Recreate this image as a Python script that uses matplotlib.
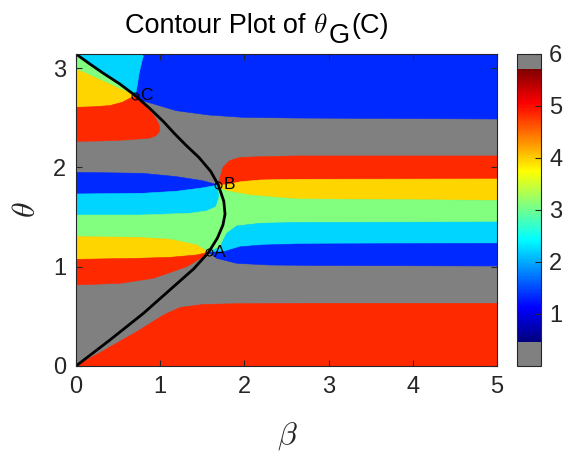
import numpy as np
import matplotlib
matplotlib.use("Agg")
import matplotlib.pyplot as plt
from matplotlib.colors import LinearSegmentedColormap, ListedColormap, Normalize
from matplotlib.cm import ScalarMappable
from matplotlib.transforms import IdentityTransform

plt.rcParams['font.family'] = ['Liberation Sans', 'DejaVu Sans']
plt.rcParams['mathtext.fontset'] = 'cm'

# special points (beta, theta)
pt_names = ['A', 'B', 'C']
pt_beta = [1.575, 1.69, 0.705]
pt_theta = [1.145, 1.823, 2.722]

# black curve
curve_beta = [0, 0.20, 0.40, 0.60, 0.80, 1.00, 1.20, 1.40, 1.575, 1.68, 1.745, 1.77,
              1.755, 1.69, 1.60, 1.46, 1.31, 1.17, 1.04, 0.88, 0.705, 0.52, 0.32, 0.15, 0]
curve_theta = [0, 0.13, 0.26, 0.395, 0.53, 0.68, 0.83, 0.98, 1.145, 1.29, 1.42, 1.53,
               1.66, 1.823, 1.96, 2.10, 2.22, 2.34, 2.46, 2.59, 2.722, 2.84, 2.95, 3.05, np.pi]

# region boundaries (beta, theta)
ul_green_yellow = [(0, 2.99), (0.25, 2.895), (0.50, 2.80), (0.705, 2.722)]
ul_yellow_red = [(0, 2.605), (0.20, 2.61), (0.40, 2.622), (0.55, 2.655), (0.65, 2.70), (0.705, 2.722)]
ul_red_gray = [(0, 2.262), (0.30, 2.266), (0.59, 2.276), (0.88, 2.295), (0.95, 2.32),
               (0.99, 2.36), (0.99, 2.42), (0.95, 2.49), (0.89, 2.56), (0.80, 2.64), (0.705, 2.722)]
top_cyan_blue = [(0.705, 2.722), (0.73, 2.84), (0.75, 2.95), (0.78, 3.06), (0.80, 3.12), (0.78, np.pi)]
top_blue_gray = [(0.705, 2.722), (0.79, 2.672), (1.19, 2.571), (1.58, 2.527), (1.98, 2.504),
                 (2.61, 2.497), (5, 2.487)]

ml_gray_blue = [(0, 1.95), (0.79, 1.94), (1.19, 1.907), (1.50, 1.866), (1.69, 1.823)]
ml_blue_cyan = [(0, 1.732), (0.79, 1.739), (1.19, 1.759), (1.50, 1.793), (1.69, 1.823)]
ml_cyan_green = [(0, 1.52), (0.76, 1.52), (1.354, 1.538), (1.55, 1.561), (1.663, 1.604),
                 (1.70, 1.705), (1.69, 1.823)]

mr_gray_red = [(1.69, 1.823), (1.71, 1.90), (1.75, 2.007), (1.83, 2.07), (1.95, 2.10),
               (2.19, 2.107), (2.61, 2.115), (5, 2.115)]
mr_red_yellow = [(1.69, 1.823), (1.79, 1.825), (1.95, 1.855), (2.19, 1.873), (2.61, 1.88), (5, 1.883)]
mr_yellow_green = [(1.69, 1.823), (1.73, 1.78), (1.87, 1.75), (2.07, 1.72), (2.61, 1.682), (5, 1.668)]

ll_green_yellow = [(0, 1.302), (0.72, 1.296), (1.116, 1.276), (1.433, 1.219), (1.575, 1.145)]
ll_yellow_red = [(0, 1.074), (0.72, 1.084), (1.116, 1.094), (1.433, 1.118), (1.575, 1.145)]
ll_red_gray = [(0, 0.816), (0.523, 0.833), (0.918, 0.883), (1.315, 1.0), (1.512, 1.10), (1.575, 1.145)]

lr_green_cyan = [(1.575, 1.145), (1.71, 1.20), (1.79, 1.336), (1.91, 1.41), (2.19, 1.437),
                 (2.61, 1.445), (5, 1.450)]
lr_cyan_blue = [(1.575, 1.145), (1.75, 1.15), (1.95, 1.20), (2.19, 1.217), (2.61, 1.228), (5, 1.235)]
lr_blue_gray = [(1.575, 1.145), (1.67, 1.085), (1.91, 1.034), (2.30, 1.017), (2.9, 1.012), (5, 1.007)]

bot_gray_red = [(0, 0), (0.325, 0.154), (0.72, 0.345), (1.04, 0.513), (1.235, 0.59), (1.51, 0.62),
                (1.91, 0.627), (2.9, 0.631), (5, 0.631)]

corners = {'tl': (0, np.pi), 'tr': (5, np.pi), 'bl': (0, 0), 'br': (5, 0)}

# matlab style jet
mjet = LinearSegmentedColormap.from_list('mjet', [(0, (0, 0, 0.5)), (0.125, (0, 0, 1)),
                                                  (0.375, (0, 1, 1)), (0.625, (1, 1, 0)),
                                                  (0.875, (1, 0, 0)), (1, (0.5, 0, 0))])
gray = (0.5, 0.5, 0.5)


def rev(b):
    return b[::-1]


# curve part from C up to (0, pi)
curve_pts = list(zip(curve_beta, curve_theta))
iC = int(np.argmin([(b - pt_beta[2]) ** 2 + (t - pt_theta[2]) ** 2 for b, t in curve_pts]))
curve_upper = curve_pts[iC:]

# (level, boundary pieces)
regions = [
    (1, [top_cyan_blue, [corners['tr']], rev(top_blue_gray)]),
    (2, [[corners['tl']], [(0.78, np.pi)], rev(top_cyan_blue), curve_upper]),
    (3, [ul_green_yellow, curve_upper]),
    (4, [ul_green_yellow, rev(ul_yellow_red)]),
    (5, [ul_yellow_red, rev(ul_red_gray)]),
    (1, [ml_gray_blue, rev(ml_blue_cyan)]),
    (2, [ml_blue_cyan, rev(ml_cyan_green)]),
    (5, [mr_gray_red, rev(mr_red_yellow)]),
    (4, [mr_red_yellow, rev(mr_yellow_green)]),
    (3, [ml_cyan_green, mr_yellow_green, rev(lr_green_cyan), rev(ll_green_yellow)]),
    (2, [lr_green_cyan, rev(lr_cyan_blue)]),
    (1, [lr_cyan_blue, rev(lr_blue_gray)]),
    (4, [ll_green_yellow, rev(ll_yellow_red)]),
    (5, [ll_yellow_red, rev(ll_red_gray)]),
    (5, [bot_gray_red, [corners['br']], [corners['bl']]]),
]

fig = plt.figure(figsize=(5.82, 4.57), dpi=100)
ax = fig.add_axes([76 / 582, 91 / 457, 421 / 582, 312 / 457])
ax.set_facecolor(gray)

for lev, parts in regions:
    pts = np.vstack([np.asarray(p, float) for p in parts])
    c = mjet(lev / 6)
    ax.fill(pts[:, 0], pts[:, 1], color=c, lw=0.4, ec=c)

ax.plot(curve_beta, curve_theta, color='k', lw=2)
for name, b, t in zip(pt_names, pt_beta, pt_theta):
    ax.plot(b, t, 'o', ms=5, mfc='none', mec='k', mew=0.8)
    ax.annotate(name, (b, t), xytext=(3.5, 0), textcoords='offset points',
                fontsize=12.5, va='center', ha='left')

ax.set_xlim(0, 5)
ax.set_ylim(0, np.pi)
ax.set_xticks([0, 1, 2, 3, 4, 5])
ax.set_yticks([0, 1, 2, 3])
edge = (0.15, 0.15, 0.15)
ax.tick_params(direction='in', top=True, right=True, labelsize=17, colors=edge,
               length=4, width=0.8, pad=7)
for s in ax.spines.values():
    s.set_color(edge)
    s.set_linewidth(0.8)

fig.text(287 / 582, 1 - 436 / 457, r'$\beta$', fontsize=23, ha='center', va='center', color=edge)
fig.text(27 / 582, 1 - 210 / 457, r'$\theta$', fontsize=23, ha='center', va='center',
         rotation=90, color=edge)

# title in pieces so the subscript G stays full size
title_parts = [('Contour Plot of', 0, 0), (r'$\theta$', 8, 0), ('G', 1, -10), ('(C)', 2, 0)]
fig.canvas.draw()
rend = fig.canvas.get_renderer()
base_y = 457 - 33
xpos = 0
pieces = []
for s, gap, dy in title_parts:
    xpos += gap
    t = fig.text(xpos, base_y + dy, s, fontsize=19.5, ha='left', va='baseline',
                 transform=IdentityTransform())
    w = t.get_window_extent(rend).width
    pieces.append(t)
    xpos += w
shift = 257 - xpos / 2
for t in pieces:
    x0, y0 = t.get_position()
    t.set_position((x0 + shift, y0))

# colorbar with gray ends
vals = (np.arange(512) + 0.5) / 512 * 6
lo, hi = 0.47, 5.71
cols = [gray if (v < lo or v > hi) else mjet((v - lo) / (hi - lo)) for v in vals]
cax = fig.add_axes([516.7 / 582, 91 / 457, 24 / 582, 312 / 457])
sm = ScalarMappable(norm=Normalize(0, 6), cmap=ListedColormap(cols))
cb = fig.colorbar(sm, cax=cax, ticks=[1, 2, 3, 4, 5, 6])
cb.ax.tick_params(direction='in', labelsize=17, colors=edge, length=4, width=0.8, pad=6)
cb.outline.set_edgecolor(edge)
cb.outline.set_linewidth(0.8)

fig.savefig('out.png', dpi=100)
